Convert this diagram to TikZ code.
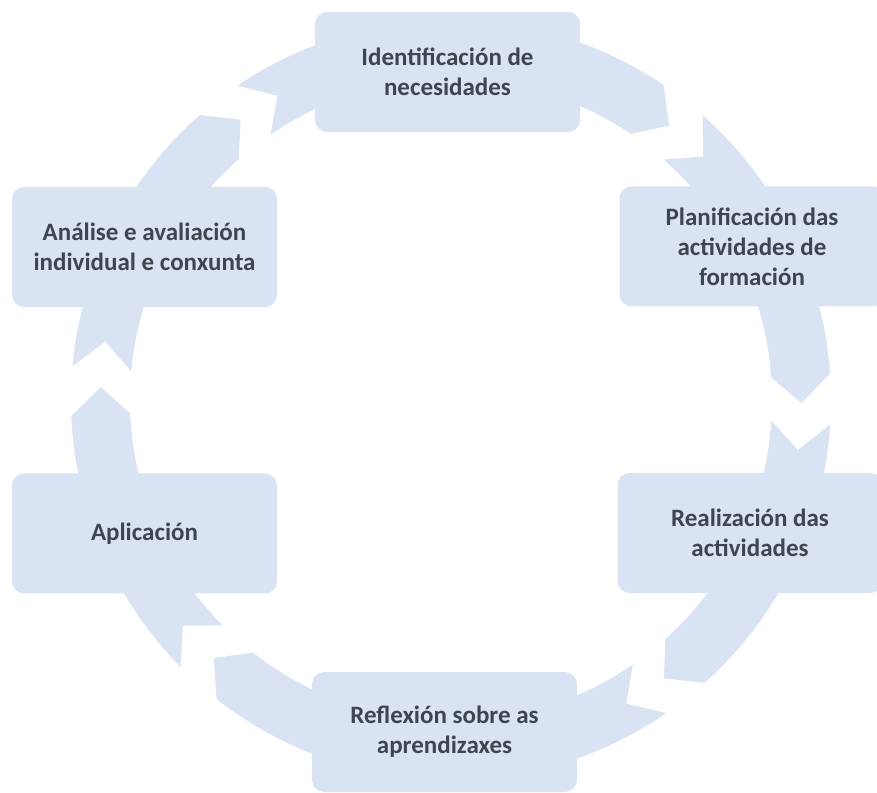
\documentclass[tikz,border=0pt]{standalone}
\usepackage{fontspec}
\setmainfont{Carlito}
\usetikzlibrary{calc}
\definecolor{ringblue}{RGB}{218,227,243}
\definecolor{labelgrey}{RGB}{62,68,80}
\tikzset{
	stagebox/.style={fill=ringblue, rounded corners=12pt, minimum width=265pt, minimum height=120pt, inner sep=0pt, align=center, text=labelgrey, font=\bfseries\fontsize{25}{30}\selectfont},
	ringfill/.style={fill=ringblue}
}
% one piece of the ring, running clockwise from its notch angle (#1) to its tip angle (#2) round the centre (451,392)
\def\ringpiece(#1:#2){\fill[ringfill] ($(451,392)+({#1+4.5}:380)$) arc[start angle={#1+4.5}, end angle={#2+4.5}, radius=380] -- ($(451,392)+(#2:350.5)$) -- ($(451,392)+({#2+4.5}:321)$) arc[start angle={#2+4.5}, end angle={#1+4.5}, radius=321] -- ($(451,392)+(#1:350.5)$) -- cycle;}

\begin{document}
\begin{tikzpicture}[x=1pt, y=1pt]
			% The page is the size of the reference, and boxes running off its edges are cut there
			\useasboundingbox (0, 0) rectangle (877, 792);
			\clip (0, 0) rectangle (877, 792);

			% The ring is built from six pieces, each with a notch at its tail and a point at its head.
			% Between Análise and Planificación, passing under Identificación
			\ringpiece(119.7:51.5)
			% Between Identificación and Realización, passing under Planificación
			\ringpiece(44:-0.5)
			% Between Planificación and Reflexión, passing under Realización
			\ringpiece(-8.2:-52.6)
			% Between Realización and Aplicación, passing under Reflexión
			\ringpiece(-60:-132.6)
			% Between Reflexión and Análise, passing under Aplicación
			\ringpiece(-139.9:-182.1)
			% Between Aplicación and Identificación, passing under Análise
			\ringpiece(170.4:126.9)

			% The six stages sit on top of the ring
			\node[stagebox] (ident) at (447.5, 720) {Identificación de\\necesidades};
			\node[stagebox] (plan) at (752, 545.5) {Planificación das\\actividades de\\formación};
			\node[stagebox] (real) at (750, 259) {Realización das\\actividades};
			\node[stagebox] (refl) at (444.5, 60) {Reflexión sobre as\\aprendizaxes};
			\node[stagebox] (apl) at (144.5, 258.5) {Aplicación};
			\node[stagebox] (anal) at (144.5, 545) {Análise e avaliación\\individual e conxunta};
\end{tikzpicture}
\end{document}
